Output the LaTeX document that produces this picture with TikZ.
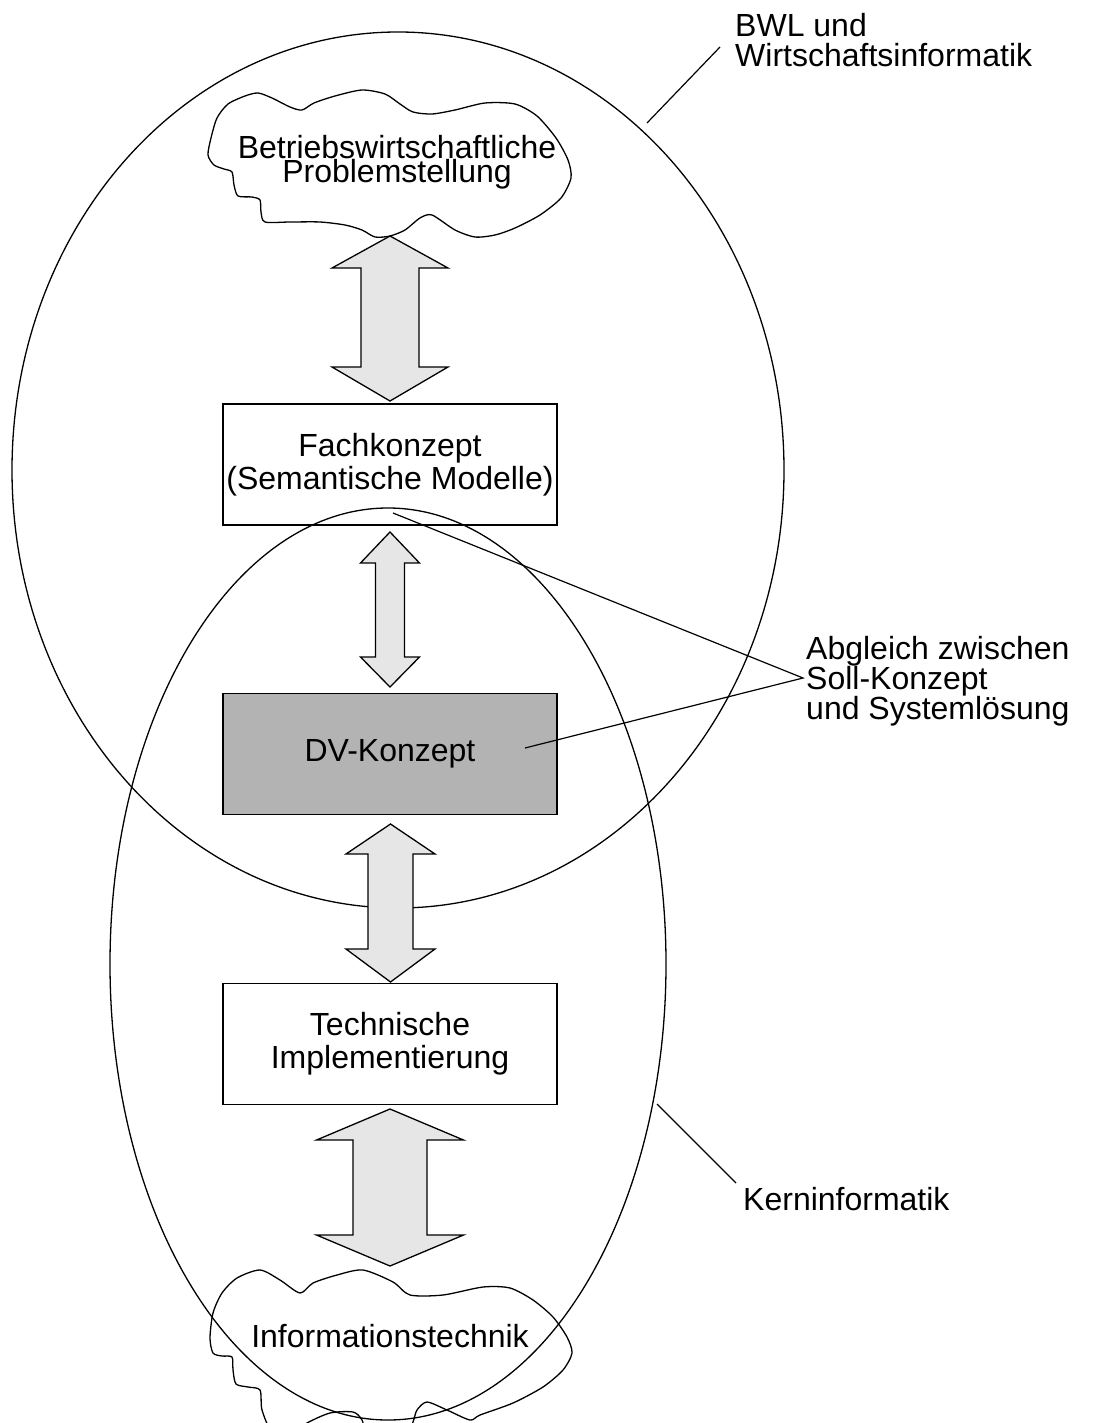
\documentclass[tikz,border=0pt]{standalone}
\usepackage{fontspec}
\setmainfont{Liberation Sans}
\definecolor{arrowgray}{HTML}{E6E6E6}
\definecolor{dvgray}{HTML}{B3B3B3}
\newcommand\dblarr[7]{% cx, ytop, yshoulder1, yshoulder2, ybottom, head half width, shaft half width
  \draw[dblarrow] (#1,#2) -- ({#1+#6},#3) -- ({#1+#7},#3) -- ({#1+#7},#4) -- ({#1+#6},#4) -- (#1,#5)
    -- ({#1-#6},#4) -- ({#1-#7},#4) -- ({#1-#7},#3) -- ({#1-#6},#3) -- cycle;}
\begin{document}
\begin{tikzpicture}[x=1pt,y=-1pt,
  every node/.style={font=\fontsize{32}{32}\selectfont},
  outline/.style={line width=1.3pt, black},
  dblarrow/.style={line width=1.3pt, draw=black, fill=arrowgray, line join=miter},
  box/.style={draw=black, line width=1.3pt, minimum width=334pt, minimum height=121pt, inner sep=0pt, align=center, font=\fontsize{32}{33}\selectfont},
  lbl/.style={anchor=north west, inner sep=0pt, align=left, font=\fontsize{32}{30}\selectfont},
  cloudtext/.style={inner sep=0pt, align=center, font=\fontsize{32}{24}\selectfont}]
\useasboundingbox (0,0) rectangle (1095,1423);
\clip (0,0) rectangle (1095,1423);

% big ellipses
\draw[outline] (398,470) ellipse [x radius=386pt, y radius=438pt];
\draw[outline] (388,964) ellipse [x radius=278pt, y radius=456pt];

% clouds
\draw[outline] plot[smooth cycle, tension=0.45] coordinates {
 (208,155) (211,138) (217,118) (228,104) (245,96) (258,93) (272,98) (290,107) (302,110)
 (314,103) (335,96) (362,90) (385,94) (400,104) (413,112) (432,114) (455,110) (485,103)
 (515,104) (537,116) (556,138) (568,160) (571,178) (561,198) (540,215) (515,228) (495,235)
 (475,237) (455,230) (432,215) (420,218) (405,230) (390,236) (375,237) (362,230) (345,225)
 (320,222) (290,222) (265,222) (261,212) (260,200) (252,197) (238,196) (234,185) (232,172)
 (224,169) (214,165)};
\draw[outline] plot[smooth cycle, tension=0.45] coordinates {
 (210,1338) (213,1313) (222,1293) (237,1278) (260,1270) (280,1280) (300,1293) (313,1283)
 (337,1275) (363,1270) (393,1282) (410,1295) (443,1295) (483,1287) (510,1288) (533,1300)
 (553,1317) (567,1337) (572,1353) (563,1370) (543,1387) (513,1403) (480,1415) (470,1420)
 (447,1410) (427,1402) (417,1410) (413,1422) (405,1440) (370,1440) (362,1420) (353,1412)
 (330,1413) (307,1423) (290,1435) (272,1432) (262,1410) (260,1390) (248,1387) (236,1384)
 (233,1370) (232,1357) (222,1356) (213,1353)};
\node[cloudtext, anchor=north] (bwprob) at (397,135) {Betriebswirtschaftliche\\Problemstellung};
\node[inner sep=0pt, anchor=base] (infotech) at (390,1347) {Informationstechnik};

% boxes
\node[box] (fach) at (390,464.5) {Fachkonzept\\(Semantische Modelle)};
\node[box, fill=dvgray] (dv) at (390,754) {DV-Konzept};
\node[box] (tech) at (390,1044) {Technische\\Implementierung};

% double arrows
\dblarr{390}{236}{268}{367}{401}{58}{29}
\dblarr{390}{532}{563}{657}{687}{29.5}{14.5}
\dblarr{390.5}{824}{854}{949}{982}{44.5}{22.5}
\dblarr{390}{1109}{1140}{1235}{1266}{73.5}{37}

% labels
\node[lbl] (lbwl) at (735,13) {BWL und\\Wirtschaftsinformatik};
\node[lbl] (labg) at (806,636) {Abgleich zwischen\\Soll-Konzept\\und Systemlösung};
\node[lbl] (lkern) at (743,1187) {Kerninformatik};

\coordinate (bwlA) at (647,123);
\coordinate (bwlB) at (720,47);
\coordinate (abgA) at (393,513);
\coordinate (abgB) at (525,748);
\coordinate (abgT) at (803,678);
\coordinate (kernA) at (657,1104);
\coordinate (kernB) at (736,1183);
\draw[line width=1.2pt] (bwlA) -- (bwlB);
\draw[line width=1.2pt] (abgA) -- (abgT) -- (abgB);
\draw[line width=1.2pt] (kernA) -- (kernB);
\end{tikzpicture}
\end{document}
